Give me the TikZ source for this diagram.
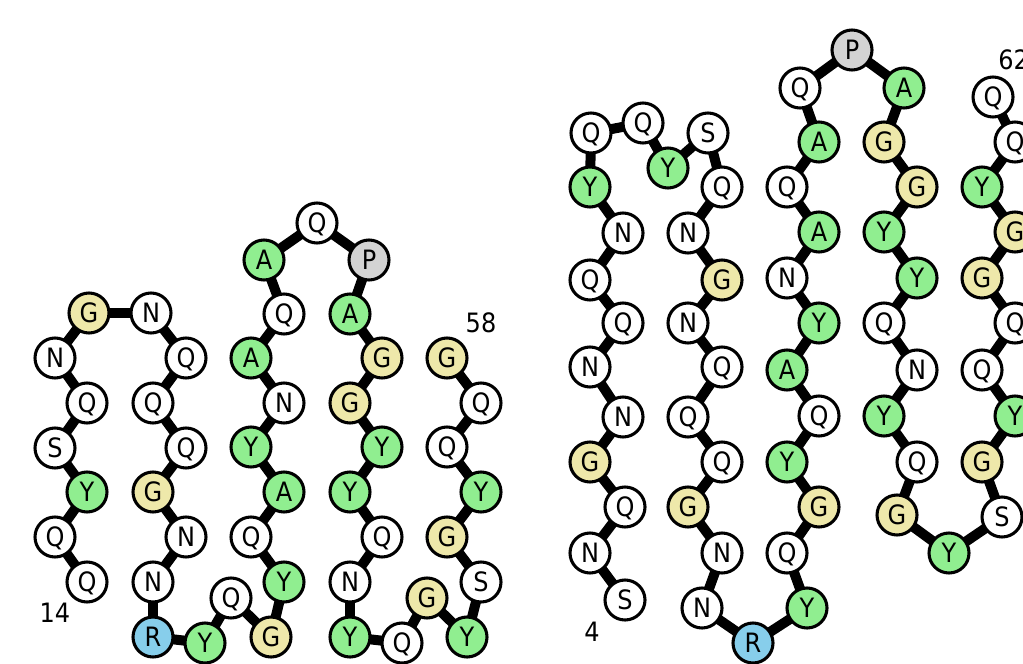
\documentclass[tikz,border=0pt]{standalone}
\usepackage{fontspec}
\setmainfont{DejaVu Sans Condensed}
\usetikzlibrary{backgrounds}
\definecolor{resgreen}{RGB}{144,238,144}
\definecolor{resyellow}{RGB}{238,232,170}
\definecolor{resblue}{RGB}{135,206,235}
\definecolor{resgray}{RGB}{211,211,211}
\tikzset{
  res/.style={circle, draw=black, line width=2.3pt, minimum size=30pt, inner sep=0pt,
    fill=white, text height=14.6pt, text depth=0pt,
    font=\fontsize{20}{20}\selectfont},
  gr/.style={res, fill=resgreen},
  ye/.style={res, fill=resyellow},
  bl/.style={res, fill=resblue},
  gy/.style={res, fill=resgray},
  lab/.style={inner sep=0pt, font=\fontsize{20}{20}\selectfont},
  bond/.style={line width=7.5pt, line join=round, draw=black}
}
\begin{document}
\begin{tikzpicture}[x=0.75pt, y=-0.75pt]
\clip (0,0) rectangle (1023,663);
% ---------------- left structure ----------------
\node[res] (L14) at (87,582) {Q};
\node[res] (L15) at (55,537) {Q};
\node[gr]  (L16) at (87,492) {Y};
\node[res] (L17) at (55,448) {S};
\node[res] (L18) at (87,403) {Q};
\node[res] (L19) at (55,358) {N};
\node[ye]  (L20) at (89,313) {G};
\node[res] (L21) at (151,313) {N};
\node[res] (L22) at (186,358) {Q};
\node[res] (L23) at (153,403) {Q};
\node[res] (L24) at (186,448) {Q};
\node[ye]  (L25) at (153,492) {G};
\node[res] (L26) at (186,537) {N};
\node[res] (L27) at (153,582) {N};
\node[bl]  (L28) at (153,637) {R};
\node[gr]  (L29) at (205,643) {Y};
\node[res] (L30) at (231,598) {Q};
\node[ye]  (L31) at (271,637) {G};
\node[gr]  (L32) at (284,582) {Y};
\node[res] (L33) at (251,537) {Q};
\node[gr]  (L34) at (284,492) {A};
\node[gr]  (L35) at (251,447) {Y};
\node[res] (L36) at (284,403) {N};
\node[gr]  (L37) at (251,358) {A};
\node[res] (L38) at (284,314) {Q};
\node[gr]  (L39) at (264,260) {A};
\node[res] (L40) at (317,223) {Q};
\node[gy]  (L41) at (369,260) {P};
\node[gr]  (L42) at (350,314) {A};
\node[ye]  (L43) at (382,358) {G};
\node[ye]  (L44) at (350,403) {G};
\node[gr]  (L45) at (382,447) {Y};
\node[gr]  (L46) at (350,492) {Y};
\node[res] (L47) at (382,537) {Q};
\node[res] (L48) at (350,582) {N};
\node[gr]  (L49) at (350,637) {Y};
\node[res] (L50) at (402,643) {Q};
\node[ye]  (L51) at (427,598) {G};
\node[gr]  (L52) at (467,637) {Y};
\node[res] (L53) at (481,582) {S};
\node[ye]  (L54) at (447,537) {G};
\node[gr]  (L55) at (481,492) {Y};
\node[res] (L56) at (447,447) {Q};
\node[res] (L57) at (481,403) {Q};
\node[ye]  (L58) at (447,358) {G};
\node[lab] (lab14) at (55,613) {14};
\node[lab] (lab58) at (481,323) {58};
% ---------------- right structure ----------------
\node[res] (R4)  at (625,600) {S};
\node[res] (R5)  at (590,553) {N};
\node[res] (R6)  at (625,507) {Q};
\node[ye]  (R7)  at (590,462) {G};
\node[res] (R8)  at (623,417) {N};
\node[res] (R9)  at (590,367) {N};
\node[res] (R10) at (623,323) {Q};
\node[res] (R11) at (590,280) {Q};
\node[res] (R12) at (623,233) {N};
\node[gr]  (R13) at (590,187) {Y};
\node[res] (R14) at (591,133) {Q};
\node[res] (R15) at (643,123) {Q};
\node[gr]  (R16) at (668,168) {Y};
\node[res] (R17) at (708,133) {S};
\node[res] (R18) at (722,187) {Q};
\node[res] (R19) at (688,233) {N};
\node[ye]  (R20) at (722,280) {G};
\node[res] (R21) at (688,323) {N};
\node[res] (R22) at (722,367) {Q};
\node[res] (R23) at (688,417) {Q};
\node[res] (R24) at (722,462) {Q};
\node[ye]  (R25) at (688,507) {G};
\node[res] (R26) at (722,553) {N};
\node[res] (R27) at (702,608) {N};
\node[bl]  (R28) at (753,643) {R};
\node[gr]  (R29) at (807,608) {Y};
\node[res] (R30) at (787,553) {Q};
\node[ye]  (R31) at (819,507) {G};
\node[gr]  (R32) at (787,462) {Y};
\node[res] (R33) at (819,416) {Q};
\node[gr]  (R34) at (787,370) {A};
\node[gr]  (R35) at (819,323) {Y};
\node[res] (R36) at (787,278) {N};
\node[gr]  (R37) at (819,232) {A};
\node[res] (R38) at (787,187) {Q};
\node[gr]  (R39) at (819,142) {A};
\node[res] (R40) at (800,88) {Q};
\node[gy]  (R41) at (852,50) {P};
\node[gr]  (R42) at (904,88) {A};
\node[ye]  (R43) at (884,142) {G};
\node[ye]  (R44) at (917,187) {G};
\node[gr]  (R45) at (884,232) {Y};
\node[gr]  (R46) at (917,278) {Y};
\node[res] (R47) at (884,323) {Q};
\node[res] (R48) at (917,370) {N};
\node[gr]  (R49) at (884,416) {Y};
\node[res] (R50) at (917,462) {Q};
\node[ye]  (R51) at (897,515) {G};
\node[gr]  (R52) at (949,553) {Y};
\node[res] (R53) at (1002,517) {S};
\node[ye]  (R54) at (982,462) {G};
\node[gr]  (R55) at (1015,416) {Y};
\node[res] (R56) at (982,370) {Q};
\node[res] (R57) at (1015,323) {Q};
\node[ye]  (R58) at (982,278) {G};
\node[ye]  (R59) at (1015,232) {G};
\node[gr]  (R60) at (982,187) {Y};
\node[res] (R61) at (1015,142) {Q};
\node[res] (R62) at (993,97) {Q};
\node[lab] (lab4) at (592,632) {4};
\node[lab, anchor=west] (lab62) at (998,60) {62};
% ---------------- bonds ----------------
\begin{scope}[on background layer]
\foreach \i in {14,...,57}{
  \pgfmathtruncatemacro{\j}{\i+1}
  \draw[bond] (L\i.center) -- (L\j.center);
}
\foreach \i in {4,...,61}{
  \pgfmathtruncatemacro{\j}{\i+1}
  \draw[bond] (R\i.center) -- (R\j.center);
}
\end{scope}
\end{tikzpicture}
\end{document}
